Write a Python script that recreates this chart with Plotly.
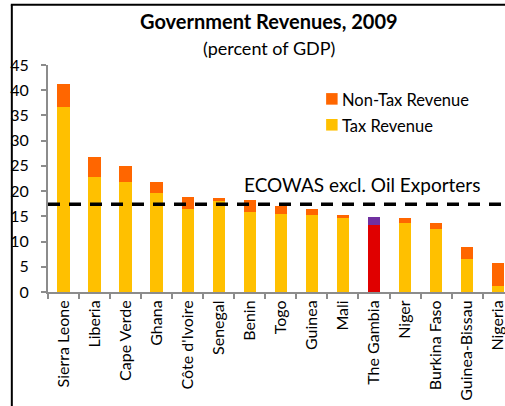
import plotly.graph_objects as go

# Government revenues, 2009 (percent of GDP)
countries = ["Sierra Leone", "Liberia", "Cape Verde", "Ghana", "Côte d'Ivoire",
             "Senegal", "Benin", "Togo", "Guinea", "Mali", "The Gambia",
             "Niger", "Burkina Faso", "Guinea-Bissau", "Nigeria"]
tax_revenue = [36.6, 22.7, 21.8, 19.6, 16.4, 18.0, 15.9, 15.5, 15.2, 14.6,
               13.2, 13.6, 12.4, 6.6, 1.1]
non_tax_revenue = [4.7, 4.0, 3.1, 2.2, 2.5, 0.6, 2.4, 1.6, 1.2, 0.6,
                   1.6, 1.0, 1.2, 2.3, 4.6]
ecowas_excl_oil = 17.4
highlight = "The Gambia"
y_ticks = [0, 5, 10, 15, 20, 25, 30, 35, 40, 45]

TAX_COLOR = "#FFC000"
NONTAX_COLOR = "#FF6600"
HL_TAX_COLOR = "#E00000"
HL_NONTAX_COLOR = "#7030A0"

FONT = "Lato, 'Open Sans', sans-serif"
W, H = 505, 406
L, R, T, B = 47.7, 0, 64.5, 113.7
pw, ph = W - L - R, H - T - B


def px_x(x):
    return (x - L) / pw


def px_y(y):
    return (H - B - y) / ph


tax_colors = [HL_TAX_COLOR if c == highlight else TAX_COLOR for c in countries]
nontax_colors = [HL_NONTAX_COLOR if c == highlight else NONTAX_COLOR for c in countries]

fig = go.Figure()
fig.add_trace(go.Bar(x=countries, y=tax_revenue, name="Tax Revenue",
                     marker=dict(color=tax_colors, line=dict(width=0)),
                     width=0.4, showlegend=False))
fig.add_trace(go.Bar(x=countries, y=non_tax_revenue, name="Non-Tax Revenue",
                     marker=dict(color=nontax_colors, line=dict(width=0)),
                     width=0.4, showlegend=False))

# regional average (dashed reference line)
fig.add_shape(type="line", xref="paper", yref="y", x0=0, x1=1,
              y0=ecowas_excl_oil, y1=ecowas_excl_oil,
              line=dict(color="black", width=3.5, dash="12px,9px"))
fig.add_annotation(text="ECOWAS excl. Oil Exporters", xref="paper", yref="paper",
                   x=px_x(242), y=px_y(184.5), xanchor="left", yanchor="middle",
                   showarrow=False, font=dict(family=FONT, size=19, color="black"))

# titles
fig.add_annotation(text="<b>Government Revenues, 2009</b>", xref="paper", yref="paper",
                   x=px_x(269), y=px_y(20), xanchor="center", yanchor="middle",
                   showarrow=False, font=dict(family=FONT, size=20, color="black"))
fig.add_annotation(text="(percent of GDP)", xref="paper", yref="paper",
                   x=px_x(269), y=px_y(47), xanchor="center", yanchor="middle",
                   showarrow=False, font=dict(family=FONT, size=18, color="black"))

# legend
legend_items = [("Non-Tax Revenue", NONTAX_COLOR, 98.5), ("Tax Revenue", TAX_COLOR, 124.5)]
for label, color, yc in legend_items:
    fig.add_shape(type="rect", xref="paper", yref="paper",
                  x0=px_x(326), x1=px_x(337.5), y0=px_y(yc + 5.8), y1=px_y(yc - 5.8),
                  fillcolor=color, line=dict(width=0))
    fig.add_annotation(text=label, xref="paper", yref="paper",
                       x=px_x(340), y=px_y(yc + 1), xanchor="left", yanchor="middle",
                       showarrow=False, font=dict(family=FONT, size=16.5, color="black"))

# outer frame (left and top edges)
fig.add_shape(type="line", xref="paper", yref="paper",
              x0=px_x(11.5), x1=px_x(11.5), y0=px_y(4), y1=px_y(H + 2),
              line=dict(color="black", width=2))
fig.add_shape(type="line", xref="paper", yref="paper",
              x0=px_x(10.5), x1=px_x(W + 2), y0=px_y(4), y1=px_y(4),
              line=dict(color="black", width=2))

fig.update_layout(
    width=W, height=H,
    margin=dict(l=L, r=R, t=T, b=B, pad=0),
    paper_bgcolor="white", plot_bgcolor="white",
    barmode="stack",
    showlegend=False,
    font=dict(family=FONT, size=15, color="black"),
)
fig.update_xaxes(type="category", range=[-0.5, 14.22], tickangle=-90,
                 tickson="boundaries", ticks="outside", ticklen=5, tickwidth=2,
                 tickcolor="#8c8c8c", showline=True, linecolor="#8c8c8c", linewidth=2,
                 showgrid=False, tickfont=dict(family=FONT, size=16, color="black"))
fig.update_yaxes(range=[0, 45], tickvals=y_ticks, ticks="outside", ticklen=5, tickwidth=2,
                 tickcolor="#8c8c8c", showline=True, linecolor="#8c8c8c", linewidth=2,
                 showgrid=False, zeroline=False, ticklabelstandoff=9,
                 tickfont=dict(family=FONT, size=16, color="black"))

fig.write_html("out.html")
